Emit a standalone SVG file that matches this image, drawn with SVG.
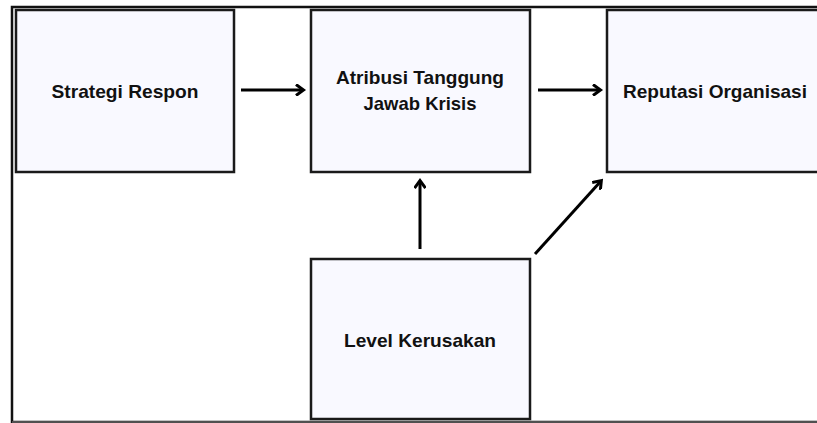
<svg xmlns="http://www.w3.org/2000/svg" width="817" height="423" viewBox="0 0 817 423">
<style>
.box{fill:#f9f9ff;stroke:#1a1a1a;stroke-width:2.5}
.lbl{font-family:"Liberation Sans",Arial,sans-serif;font-weight:bold;font-size:18.5px;fill:#111;text-anchor:middle}
.con{stroke:#000;stroke-width:3;fill:none;marker-end:url(#ah)}
</style>
<defs>
<marker id="ah" markerWidth="12" markerHeight="12" refX="8" refY="6" orient="auto" markerUnits="userSpaceOnUse">
<path d="M1,0.5 L8.5,6 L1,11.5" fill="none" stroke="#000" stroke-width="3"/>
</marker>
</defs>
<rect width="817" height="423" fill="#fff"/>
<path d="M820,7 H12 V422 H820" fill="none" stroke="#111" stroke-width="2.5"/>
<line x1="12" y1="422" x2="817" y2="422" stroke="#666" stroke-width="1.5"/>
<g id="n1"><rect class="box" x="16" y="10" width="218" height="162"/><text class="lbl" x="125" y="98" textLength="147" lengthAdjust="spacingAndGlyphs">Strategi Respon</text></g>
<g id="n2"><rect class="box" x="311" y="10" width="219" height="162"/><text class="lbl" x="420" y="84" textLength="168" lengthAdjust="spacingAndGlyphs">Atribusi Tanggung</text><text class="lbl" x="420" y="110" textLength="113" lengthAdjust="spacingAndGlyphs">Jawab Krisis</text></g>
<g id="n3"><rect class="box" x="607" y="10" width="220" height="162"/><text class="lbl" x="715" y="98" textLength="184" lengthAdjust="spacingAndGlyphs">Reputasi Organisasi</text></g>
<g id="n4"><rect class="box" x="311" y="259" width="219" height="160"/><text class="lbl" x="420" y="347" textLength="152" lengthAdjust="spacingAndGlyphs">Level Kerusakan</text></g>
<g id="connectors">
<line class="con" x1="241" y1="90" x2="303" y2="90"/>
<line class="con" x1="538" y1="90" x2="600" y2="90"/>
<line class="con" x1="420" y1="249" x2="420" y2="181"/>
<line class="con" x1="535" y1="254" x2="601" y2="181"/>
</g>
</svg>
